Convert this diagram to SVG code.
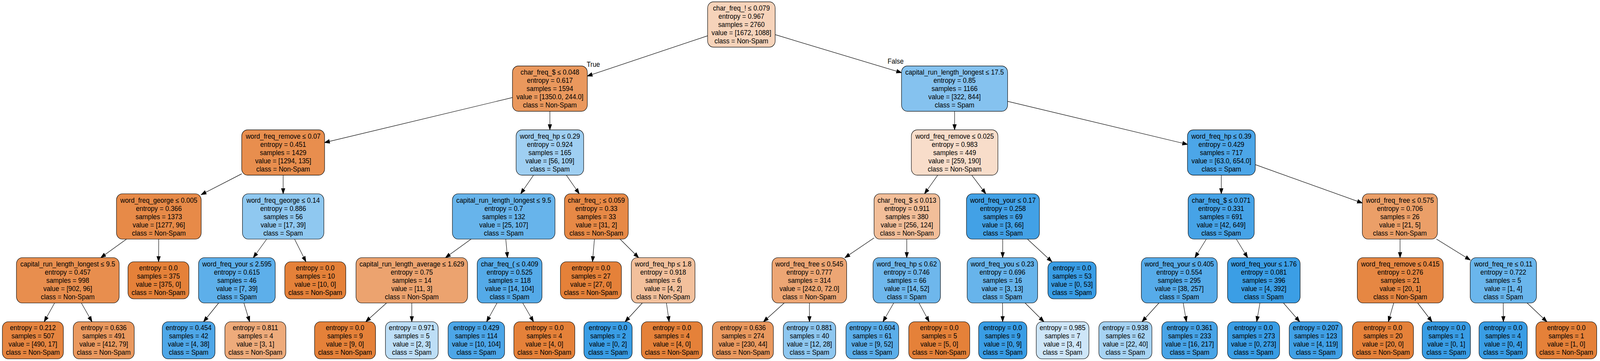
<svg xmlns="http://www.w3.org/2000/svg" width="4382" height="924" viewBox="0 0 4382 924" preserveAspectRatio="none">
<style>
svg{width:min(4382px,100vw);height:min(924px,100vh)}
.n rect{stroke:#000;stroke-width:1.2}
text{font-family:"Liberation Sans",Arial,Helvetica,sans-serif;font-size:18px;text-anchor:middle;fill:#000}
.e line{stroke:#000;stroke-width:1.2;fill:none;marker-end:url(#a)}
.o{fill:#e58139}.b{fill:#399de5}
</style>
<defs>
<marker id="a" markerUnits="userSpaceOnUse" markerWidth="16" markerHeight="12" refX="13.5" refY="4.8" orient="auto" overflow="visible">
<path d="M0,0 L13.5,4.8 L0,9.6 z" fill="#000" stroke="#000" stroke-width="1.2"/>
</marker>
</defs>
<rect width="4382" height="924" fill="#fff"/>
<g id="edges" class="e">
<line x1="1938" y1="91.6" x2="1608.5" y2="194.7"/>
<line x1="2123" y1="88.7" x2="2469" y2="186"/>
<line x1="1403.5" y1="249.7" x2="889" y2="364.9"/>
<line x1="1506" y1="284.8" x2="1506" y2="332.3"/>
<line x1="2614.4" y1="284.8" x2="2614.4" y2="332.3"/>
<line x1="2759.6" y1="259.3" x2="3252.2" y2="369.5"/>
<line x1="662" y1="444.9" x2="551" y2="498.2"/>
<line x1="775.5" y1="448.3" x2="775.5" y2="496"/>
<line x1="1461.2" y1="448.3" x2="1426" y2="496"/>
<line x1="1551.1" y1="448.3" x2="1586.5" y2="496"/>
<line x1="2568.2" y1="448.3" x2="2532" y2="496"/>
<line x1="2661.4" y1="448.3" x2="2699.9" y2="496"/>
<line x1="3344.8" y1="448.3" x2="3344.8" y2="496"/>
<line x1="3437.9" y1="421.4" x2="3731" y2="519.6"/>
<line x1="346.5" y1="612" x2="276" y2="659.5"/>
<line x1="434.7" y1="612" x2="434.3" y2="670"/>
<line x1="730.5" y1="612" x2="693.7" y2="659.5"/>
<line x1="806.7" y1="612" x2="837.9" y2="670"/>
<line x1="1290.2" y1="612" x2="1220" y2="659.5"/>
<line x1="1385.2" y1="612" x2="1389.9" y2="659.5"/>
<line x1="1628" y1="612" x2="1622.7" y2="670"/>
<line x1="1698.2" y1="612" x2="1749" y2="659.5"/>
<line x1="2393.8" y1="609.1" x2="2314" y2="659.5"/>
<line x1="2483.5" y1="612" x2="2483.4" y2="659.5"/>
<line x1="2746.2" y1="612" x2="2746" y2="659.5"/>
<line x1="2813.9" y1="612" x2="2881" y2="670"/>
<line x1="3303.8" y1="612" x2="3272.5" y2="659.5"/>
<line x1="3386" y1="612" x2="3417" y2="659.5"/>
<line x1="3834.4" y1="612" x2="3834.4" y2="659.5"/>
<line x1="3934.2" y1="612" x2="4026.7" y2="665.5"/>
<line x1="149.5" y1="775.5" x2="121" y2="823.5"/>
<line x1="222.8" y1="775.5" x2="252" y2="823.5"/>
<line x1="598.8" y1="775.5" x2="557.5" y2="823.5"/>
<line x1="667.9" y1="775.5" x2="683.7" y2="823.5"/>
<line x1="1058.7" y1="775.5" x2="1001.6" y2="823.5"/>
<line x1="1127.8" y1="775.5" x2="1127.8" y2="823.5"/>
<line x1="1361.2" y1="775.5" x2="1332.7" y2="823.5"/>
<line x1="1431.6" y1="775.5" x2="1461.3" y2="823.5"/>
<line x1="1759.2" y1="775.5" x2="1712" y2="823.5"/>
<line x1="1825.2" y1="775.5" x2="1832.6" y2="823.5"/>
<line x1="2147.8" y1="775.5" x2="2090.9" y2="823.5"/>
<line x1="2216.8" y1="775.5" x2="2216.9" y2="823.5"/>
<line x1="2447.7" y1="775.5" x2="2418.2" y2="823.5"/>
<line x1="2516.9" y1="775.5" x2="2544.8" y2="823.5"/>
<line x1="2745.7" y1="775.5" x2="2746" y2="823.5"/>
<line x1="2807.5" y1="775.5" x2="2859" y2="823.5"/>
<line x1="3174" y1="775.5" x2="3127.7" y2="823.5"/>
<line x1="3240.5" y1="775.5" x2="3249.3" y2="823.5"/>
<line x1="3450.7" y1="775.5" x2="3441.8" y2="823.5"/>
<line x1="3515.1" y1="775.5" x2="3559.5" y2="823.5"/>
<line x1="3817.1" y1="775.5" x2="3802.3" y2="823.5"/>
<line x1="3882.6" y1="775.5" x2="3922" y2="823.5"/>
<line x1="4117" y1="775.5" x2="4117.4" y2="823.5"/>
<line x1="4182.4" y1="775.5" x2="4236.7" y2="823.5"/>
<text x="1625" y="171.3">True</text>
<text x="2452.8" y="163.3">False</text>
</g>

<g id="n0" class="n"><rect x="1938" y="4.7" width="185" height="116" rx="16" fill="#f6d3ba"/><text x="2030.5" y="27.4"><tspan x="2030.5">char_freq_! &#8804; 0.079</tspan><tspan x="2030.5" dy="21">entropy = 0.967</tspan><tspan x="2030.5" dy="21">samples = 2760</tspan><tspan x="2030.5" dy="21">value = [1672, 1088]</tspan><tspan x="2030.5" dy="21">class = Non-Spam</tspan></text></g>

<g id="n1" class="n"><rect x="1403.5" y="168.8" width="205" height="116" rx="16" fill="#ea985d"/><text x="1506" y="191.5"><tspan x="1506">char_freq_$ &#8804; 0.048</tspan><tspan x="1506" dy="21">entropy = 0.617</tspan><tspan x="1506" dy="21">samples = 1594</tspan><tspan x="1506" dy="21">value = [1350.0, 244.0]</tspan><tspan x="1506" dy="21">class = Non-Spam</tspan></text></g>

<g id="n27" class="n"><rect x="2469" y="168.8" width="290.6" height="116" rx="16" fill="#85c2ef"/><text x="2614.3" y="191.5"><tspan x="2614.3">capital_run_length_longest &#8804; 17.5</tspan><tspan x="2614.3" dy="21">entropy = 0.85</tspan><tspan x="2614.3" dy="21">samples = 1166</tspan><tspan x="2614.3" dy="21">value = [322, 844]</tspan><tspan x="2614.3" dy="21">class = Spam</tspan></text></g>

<g id="n2" class="n"><rect x="662" y="332.3" width="227" height="116" rx="16" fill="#e88e4e"/><text x="775.5" y="355"><tspan x="775.5">word_freq_remove &#8804; 0.07</tspan><tspan x="775.5" dy="21">entropy = 0.451</tspan><tspan x="775.5" dy="21">samples = 1429</tspan><tspan x="775.5" dy="21">value = [1294, 135]</tspan><tspan x="775.5" dy="21">class = Non-Spam</tspan></text></g>

<g id="n14" class="n"><rect x="1413.5" y="332.3" width="185" height="116" rx="16" fill="#9fcff2"/><text x="1506" y="355"><tspan x="1506">word_freq_hp &#8804; 0.29</tspan><tspan x="1506" dy="21">entropy = 0.924</tspan><tspan x="1506" dy="21">samples = 165</tspan><tspan x="1506" dy="21">value = [56, 109]</tspan><tspan x="1506" dy="21">class = Spam</tspan></text></g>

<g id="n28" class="n"><rect x="2496" y="332.3" width="237" height="116" rx="16" fill="#f8ddca"/><text x="2614.5" y="355"><tspan x="2614.5">word_freq_remove &#8804; 0.025</tspan><tspan x="2614.5" dy="21">entropy = 0.983</tspan><tspan x="2614.5" dy="21">samples = 449</tspan><tspan x="2614.5" dy="21">value = [259, 190]</tspan><tspan x="2614.5" dy="21">class = Non-Spam</tspan></text></g>

<g id="n41" class="n"><rect x="3252.2" y="332.3" width="185.7" height="116" rx="16" fill="#4ca6e8"/><text x="3345" y="355"><tspan x="3345">word_freq_hp &#8804; 0.39</tspan><tspan x="3345" dy="21">entropy = 0.429</tspan><tspan x="3345" dy="21">samples = 717</tspan><tspan x="3345" dy="21">value = [63.0, 654.0]</tspan><tspan x="3345" dy="21">class = Spam</tspan></text></g>

<g id="n3" class="n"><rect x="319" y="496" width="232" height="116" rx="16" fill="#e78a48"/><text x="435" y="518.7"><tspan x="435">word_freq_george &#8804; 0.005</tspan><tspan x="435" dy="21">entropy = 0.366</tspan><tspan x="435" dy="21">samples = 1373</tspan><tspan x="435" dy="21">value = [1277, 96]</tspan><tspan x="435" dy="21">class = Non-Spam</tspan></text></g>

<g id="n9" class="n"><rect x="664" y="496" width="223" height="116" rx="16" fill="#8fc8f0"/><text x="775.5" y="518.7"><tspan x="775.5">word_freq_george &#8804; 0.14</tspan><tspan x="775.5" dy="21">entropy = 0.886</tspan><tspan x="775.5" dy="21">samples = 56</tspan><tspan x="775.5" dy="21">value = [17, 39]</tspan><tspan x="775.5" dy="21">class = Spam</tspan></text></g>

<g id="n15" class="n"><rect x="1239" y="496" width="281" height="116" rx="16" fill="#67b4eb"/><text x="1379.5" y="518.7"><tspan x="1379.5">capital_run_length_longest &#8804; 9.5</tspan><tspan x="1379.5" dy="21">entropy = 0.7</tspan><tspan x="1379.5" dy="21">samples = 132</tspan><tspan x="1379.5" dy="21">value = [25, 107]</tspan><tspan x="1379.5" dy="21">class = Spam</tspan></text></g>

<g id="n22" class="n"><rect x="1546" y="496" width="174.6" height="116" rx="16" fill="#e78946"/><text x="1633.3" y="518.7"><tspan x="1633.3">char_freq_; &#8804; 0.059</tspan><tspan x="1633.3" dy="21">entropy = 0.33</tspan><tspan x="1633.3" dy="21">samples = 33</tspan><tspan x="1633.3" dy="21">value = [31, 2]</tspan><tspan x="1633.3" dy="21">class = Non-Spam</tspan></text></g>

<g id="n29" class="n"><rect x="2393.8" y="496" width="180" height="116" rx="16" fill="#f2be99"/><text x="2483.8" y="518.7"><tspan x="2483.8">char_freq_$ &#8804; 0.013</tspan><tspan x="2483.8" dy="21">entropy = 0.911</tspan><tspan x="2483.8" dy="21">samples = 380</tspan><tspan x="2483.8" dy="21">value = [256, 124]</tspan><tspan x="2483.8" dy="21">class = Non-Spam</tspan></text></g>

<g id="n36" class="n"><rect x="2646.9" y="496" width="199.8" height="116" rx="16" fill="#42a1e6"/><text x="2746.8" y="518.7"><tspan x="2746.8">word_freq_your &#8804; 0.17</tspan><tspan x="2746.8" dy="21">entropy = 0.258</tspan><tspan x="2746.8" dy="21">samples = 69</tspan><tspan x="2746.8" dy="21">value = [3, 66]</tspan><tspan x="2746.8" dy="21">class = Spam</tspan></text></g>

<g id="n42" class="n"><rect x="3254" y="496" width="181" height="116" rx="16" fill="#46a3e7"/><text x="3344.5" y="518.7"><tspan x="3344.5">char_freq_$ &#8804; 0.071</tspan><tspan x="3344.5" dy="21">entropy = 0.331</tspan><tspan x="3344.5" dy="21">samples = 691</tspan><tspan x="3344.5" dy="21">value = [42, 649]</tspan><tspan x="3344.5" dy="21">class = Spam</tspan></text></g>

<g id="n49" class="n"><rect x="3731" y="496" width="205.7" height="116" rx="16" fill="#eb9f68"/><text x="3833.9" y="518.7"><tspan x="3833.9">word_freq_free &#8804; 0.575</tspan><tspan x="3833.9" dy="21">entropy = 0.706</tspan><tspan x="3833.9" dy="21">samples = 26</tspan><tspan x="3833.9" dy="21">value = [21, 5]</tspan><tspan x="3833.9" dy="21">class = Non-Spam</tspan></text></g>

<g id="n4" class="n"><rect x="45" y="659.5" width="281.3" height="116" rx="16" fill="#e88e4e"/><text x="185.6" y="682.2"><tspan x="185.6">capital_run_length_longest &#8804; 9.5</tspan><tspan x="185.6" dy="21">entropy = 0.457</tspan><tspan x="185.6" dy="21">samples = 998</tspan><tspan x="185.6" dy="21">value = [902, 96]</tspan><tspan x="185.6" dy="21">class = Non-Spam</tspan></text></g>

<g id="n8" class="n"><rect class="o" x="350.5" y="670" width="167" height="95" rx="16"/><text x="434" y="691.6"><tspan x="434">entropy = 0.0</tspan><tspan x="434" dy="21">samples = 375</tspan><tspan x="434" dy="21">value = [375, 0]</tspan><tspan x="434" dy="21">class = Non-Spam</tspan></text></g>

<g id="n10" class="n"><rect x="543.8" y="659.5" width="210" height="116" rx="16" fill="#5dafea"/><text x="648.8" y="682.2"><tspan x="648.8">word_freq_your &#8804; 2.595</tspan><tspan x="648.8" dy="21">entropy = 0.615</tspan><tspan x="648.8" dy="21">samples = 46</tspan><tspan x="648.8" dy="21">value = [7, 39]</tspan><tspan x="648.8" dy="21">class = Spam</tspan></text></g>

<g id="n13" class="n"><rect class="o" x="780" y="670" width="167" height="95" rx="16"/><text x="863.5" y="691.6"><tspan x="863.5">entropy = 0.0</tspan><tspan x="863.5" dy="21">samples = 10</tspan><tspan x="863.5" dy="21">value = [10, 0]</tspan><tspan x="863.5" dy="21">class = Non-Spam</tspan></text></g>

<g id="n16" class="n"><rect x="975" y="659.5" width="305.6" height="116" rx="16" fill="#eca36f"/><text x="1127.8" y="682.2"><tspan x="1127.8">capital_run_length_average &#8804; 1.629</tspan><tspan x="1127.8" dy="21">entropy = 0.75</tspan><tspan x="1127.8" dy="21">samples = 14</tspan><tspan x="1127.8" dy="21">value = [11, 3]</tspan><tspan x="1127.8" dy="21">class = Non-Spam</tspan></text></g>

<g id="n19" class="n"><rect x="1306.9" y="659.5" width="177.5" height="116" rx="16" fill="#54aae8"/><text x="1395.6" y="682.2"><tspan x="1395.6">char_freq_( &#8804; 0.409</tspan><tspan x="1395.6" dy="21">entropy = 0.525</tspan><tspan x="1395.6" dy="21">samples = 118</tspan><tspan x="1395.6" dy="21">value = [14, 104]</tspan><tspan x="1395.6" dy="21">class = Spam</tspan></text></g>

<g id="n23" class="n"><rect class="o" x="1534.9" y="670" width="167" height="95" rx="16"/><text x="1618.4" y="691.6"><tspan x="1618.4">entropy = 0.0</tspan><tspan x="1618.4" dy="21">samples = 27</tspan><tspan x="1618.4" dy="21">value = [27, 0]</tspan><tspan x="1618.4" dy="21">class = Non-Spam</tspan></text></g>

<g id="n24" class="n"><rect x="1729" y="659.5" width="174.4" height="116" rx="16" fill="#f2c09c"/><text x="1816.2" y="682.2"><tspan x="1816.2">word_freq_hp &#8804; 1.8</tspan><tspan x="1816.2" dy="21">entropy = 0.918</tspan><tspan x="1816.2" dy="21">samples = 6</tspan><tspan x="1816.2" dy="21">value = [4, 2]</tspan><tspan x="1816.2" dy="21">class = Non-Spam</tspan></text></g>

<g id="n30" class="n"><rect x="2114.4" y="659.5" width="204.4" height="116" rx="16" fill="#eda674"/><text x="2216.6" y="682.2"><tspan x="2216.6">word_freq_free &#8804; 0.545</tspan><tspan x="2216.6" dy="21">entropy = 0.777</tspan><tspan x="2216.6" dy="21">samples = 314</tspan><tspan x="2216.6" dy="21">value = [242.0, 72.0]</tspan><tspan x="2216.6" dy="21">class = Non-Spam</tspan></text></g>

<g id="n33" class="n"><rect x="2391" y="659.5" width="184.6" height="116" rx="16" fill="#6eb7ec"/><text x="2483.3" y="682.2"><tspan x="2483.3">word_freq_hp &#8804; 0.62</tspan><tspan x="2483.3" dy="21">entropy = 0.746</tspan><tspan x="2483.3" dy="21">samples = 66</tspan><tspan x="2483.3" dy="21">value = [14, 52]</tspan><tspan x="2483.3" dy="21">class = Spam</tspan></text></g>

<g id="n37" class="n"><rect x="2648.8" y="659.5" width="193" height="116" rx="16" fill="#67b4eb"/><text x="2745.3" y="682.2"><tspan x="2745.3">word_freq_you &#8804; 0.23</tspan><tspan x="2745.3" dy="21">entropy = 0.696</tspan><tspan x="2745.3" dy="21">samples = 16</tspan><tspan x="2745.3" dy="21">value = [3, 13]</tspan><tspan x="2745.3" dy="21">class = Spam</tspan></text></g>

<g id="n40" class="n"><rect class="b" x="2870" y="670" width="132" height="95" rx="16"/><text x="2936" y="691.6"><tspan x="2936">entropy = 0.0</tspan><tspan x="2936" dy="21">samples = 53</tspan><tspan x="2936" dy="21">value = [0, 53]</tspan><tspan x="2936" dy="21">class = Spam</tspan></text></g>

<g id="n43" class="n"><rect x="3125.8" y="659.5" width="208" height="116" rx="16" fill="#56abe9"/><text x="3229.8" y="682.2"><tspan x="3229.8">word_freq_your &#8804; 0.405</tspan><tspan x="3229.8" dy="21">entropy = 0.554</tspan><tspan x="3229.8" dy="21">samples = 295</tspan><tspan x="3229.8" dy="21">value = [38, 257]</tspan><tspan x="3229.8" dy="21">class = Spam</tspan></text></g>

<g id="n46" class="n"><rect x="3362" y="659.5" width="198.8" height="116" rx="16" fill="#3b9ee5"/><text x="3461.4" y="682.2"><tspan x="3461.4">word_freq_your &#8804; 1.76</tspan><tspan x="3461.4" dy="21">entropy = 0.081</tspan><tspan x="3461.4" dy="21">samples = 396</tspan><tspan x="3461.4" dy="21">value = [4, 392]</tspan><tspan x="3461.4" dy="21">class = Spam</tspan></text></g>

<g id="n50" class="n"><rect x="3717.3" y="659.5" width="235.3" height="116" rx="16" fill="#e68743"/><text x="3835" y="682.2"><tspan x="3835">word_freq_remove &#8804; 0.415</tspan><tspan x="3835" dy="21">entropy = 0.276</tspan><tspan x="3835" dy="21">samples = 21</tspan><tspan x="3835" dy="21">value = [20, 1]</tspan><tspan x="3835" dy="21">class = Non-Spam</tspan></text></g>

<g id="n53" class="n"><rect x="4026.5" y="659.5" width="181.5" height="116" rx="16" fill="#6ab6ec"/><text x="4117.2" y="682.2"><tspan x="4117.2">word_freq_re &#8804; 0.11</tspan><tspan x="4117.2" dy="21">entropy = 0.722</tspan><tspan x="4117.2" dy="21">samples = 5</tspan><tspan x="4117.2" dy="21">value = [1, 4]</tspan><tspan x="4117.2" dy="21">class = Spam</tspan></text></g>

<g id="n5" class="n"><rect x="6.5" y="823.5" width="167" height="95" rx="16" fill="#e68540"/><text x="90" y="845.1"><tspan x="90">entropy = 0.212</tspan><tspan x="90" dy="21">samples = 507</tspan><tspan x="90" dy="21">value = [490, 17]</tspan><tspan x="90" dy="21">class = Non-Spam</tspan></text></g>

<g id="n6" class="n"><rect x="200.6" y="823.5" width="167" height="95" rx="16" fill="#ea995f"/><text x="284.1" y="845.1"><tspan x="284.1">entropy = 0.636</tspan><tspan x="284.1" dy="21">samples = 491</tspan><tspan x="284.1" dy="21">value = [412, 79]</tspan><tspan x="284.1" dy="21">class = Non-Spam</tspan></text></g>

<g id="n11" class="n"><rect x="444.4" y="823.5" width="144.4" height="95" rx="16" fill="#4ea7e8"/><text x="516.6" y="845.1"><tspan x="516.6">entropy = 0.454</tspan><tspan x="516.6" dy="21">samples = 42</tspan><tspan x="516.6" dy="21">value = [4, 38]</tspan><tspan x="516.6" dy="21">class = Spam</tspan></text></g>

<g id="n12" class="n"><rect x="615.9" y="823.5" width="167" height="95" rx="16" fill="#eeab7b"/><text x="699.4" y="845.1"><tspan x="699.4">entropy = 0.811</tspan><tspan x="699.4" dy="21">samples = 4</tspan><tspan x="699.4" dy="21">value = [3, 1]</tspan><tspan x="699.4" dy="21">class = Non-Spam</tspan></text></g>

<g id="n17" class="n"><rect class="o" x="861.5" y="823.5" width="167" height="95" rx="16"/><text x="945" y="845.1"><tspan x="945">entropy = 0.0</tspan><tspan x="945" dy="21">samples = 9</tspan><tspan x="945" dy="21">value = [9, 0]</tspan><tspan x="945" dy="21">class = Non-Spam</tspan></text></g>

<g id="n18" class="n"><rect x="1055.6" y="823.5" width="144.4" height="95" rx="16" fill="#bddef6"/><text x="1127.8" y="845.1"><tspan x="1127.8">entropy = 0.971</tspan><tspan x="1127.8" dy="21">samples = 5</tspan><tspan x="1127.8" dy="21">value = [2, 3]</tspan><tspan x="1127.8" dy="21">class = Spam</tspan></text></g>

<g id="n20" class="n"><rect x="1227.2" y="823.5" width="154.7" height="95" rx="16" fill="#4ca6e8"/><text x="1304.5" y="845.1"><tspan x="1304.5">entropy = 0.429</tspan><tspan x="1304.5" dy="21">samples = 114</tspan><tspan x="1304.5" dy="21">value = [10, 104]</tspan><tspan x="1304.5" dy="21">class = Spam</tspan></text></g>

<g id="n21" class="n"><rect class="o" x="1407.3" y="823.5" width="167" height="95" rx="16"/><text x="1490.8" y="845.1"><tspan x="1490.8">entropy = 0.0</tspan><tspan x="1490.8" dy="21">samples = 4</tspan><tspan x="1490.8" dy="21">value = [4, 0]</tspan><tspan x="1490.8" dy="21">class = Non-Spam</tspan></text></g>

<g id="n25" class="n"><rect class="b" x="1599.3" y="823.5" width="132" height="95" rx="16"/><text x="1665.3" y="845.1"><tspan x="1665.3">entropy = 0.0</tspan><tspan x="1665.3" dy="21">samples = 2</tspan><tspan x="1665.3" dy="21">value = [0, 2]</tspan><tspan x="1665.3" dy="21">class = Spam</tspan></text></g>

<g id="n26" class="n"><rect class="o" x="1756.6" y="823.5" width="167" height="95" rx="16"/><text x="1840.1" y="845.1"><tspan x="1840.1">entropy = 0.0</tspan><tspan x="1840.1" dy="21">samples = 4</tspan><tspan x="1840.1" dy="21">value = [4, 0]</tspan><tspan x="1840.1" dy="21">class = Non-Spam</tspan></text></g>

<g id="n31" class="n"><rect x="1951.1" y="823.5" width="167" height="95" rx="16" fill="#ea995f"/><text x="2034.6" y="845.1"><tspan x="2034.6">entropy = 0.636</tspan><tspan x="2034.6" dy="21">samples = 274</tspan><tspan x="2034.6" dy="21">value = [230, 44]</tspan><tspan x="2034.6" dy="21">class = Non-Spam</tspan></text></g>

<g id="n32" class="n"><rect x="2145.3" y="823.5" width="143.5" height="95" rx="16" fill="#8ec7f0"/><text x="2217" y="845.1"><tspan x="2217">entropy = 0.881</tspan><tspan x="2217" dy="21">samples = 40</tspan><tspan x="2217" dy="21">value = [12, 28]</tspan><tspan x="2217" dy="21">class = Spam</tspan></text></g>

<g id="n34" class="n"><rect x="2316.9" y="823.5" width="144.4" height="95" rx="16" fill="#5baeea"/><text x="2389.1" y="845.1"><tspan x="2389.1">entropy = 0.604</tspan><tspan x="2389.1" dy="21">samples = 61</tspan><tspan x="2389.1" dy="21">value = [9, 52]</tspan><tspan x="2389.1" dy="21">class = Spam</tspan></text></g>

<g id="n35" class="n"><rect class="o" x="2488.9" y="823.5" width="167" height="95" rx="16"/><text x="2572.4" y="845.1"><tspan x="2572.4">entropy = 0.0</tspan><tspan x="2572.4" dy="21">samples = 5</tspan><tspan x="2572.4" dy="21">value = [5, 0]</tspan><tspan x="2572.4" dy="21">class = Non-Spam</tspan></text></g>

<g id="n38" class="n"><rect class="b" x="2680.3" y="823.5" width="132" height="95" rx="16"/><text x="2746.3" y="845.1"><tspan x="2746.3">entropy = 0.0</tspan><tspan x="2746.3" dy="21">samples = 9</tspan><tspan x="2746.3" dy="21">value = [0, 9]</tspan><tspan x="2746.3" dy="21">class = Spam</tspan></text></g>

<g id="n39" class="n"><rect x="2838" y="823.5" width="144.3" height="95" rx="16" fill="#cee6f8"/><text x="2910.1" y="845.1"><tspan x="2910.1">entropy = 0.985</tspan><tspan x="2910.1" dy="21">samples = 7</tspan><tspan x="2910.1" dy="21">value = [3, 4]</tspan><tspan x="2910.1" dy="21">class = Spam</tspan></text></g>

<g id="n44" class="n"><rect x="3009.5" y="823.5" width="145.3" height="95" rx="16" fill="#a6d3f3"/><text x="3082.1" y="845.1"><tspan x="3082.1">entropy = 0.938</tspan><tspan x="3082.1" dy="21">samples = 62</tspan><tspan x="3082.1" dy="21">value = [22, 40]</tspan><tspan x="3082.1" dy="21">class = Spam</tspan></text></g>

<g id="n45" class="n"><rect x="3182" y="823.5" width="152" height="95" rx="16" fill="#48a4e7"/><text x="3258" y="845.1"><tspan x="3258">entropy = 0.361</tspan><tspan x="3258" dy="21">samples = 233</tspan><tspan x="3258" dy="21">value = [16, 217]</tspan><tspan x="3258" dy="21">class = Spam</tspan></text></g>

<g id="n47" class="n"><rect class="b" x="3362" y="823.5" width="142.5" height="95" rx="16"/><text x="3433.2" y="845.1"><tspan x="3433.2">entropy = 0.0</tspan><tspan x="3433.2" dy="21">samples = 273</tspan><tspan x="3433.2" dy="21">value = [0, 273]</tspan><tspan x="3433.2" dy="21">class = Spam</tspan></text></g>

<g id="n48" class="n"><rect x="3530.8" y="823.5" width="145.2" height="95" rx="16" fill="#40a0e6"/><text x="3603.4" y="845.1"><tspan x="3603.4">entropy = 0.207</tspan><tspan x="3603.4" dy="21">samples = 123</tspan><tspan x="3603.4" dy="21">value = [4, 119]</tspan><tspan x="3603.4" dy="21">class = Spam</tspan></text></g>

<g id="n51" class="n"><rect class="o" x="3704.1" y="823.5" width="167" height="95" rx="16"/><text x="3787.6" y="845.1"><tspan x="3787.6">entropy = 0.0</tspan><tspan x="3787.6" dy="21">samples = 20</tspan><tspan x="3787.6" dy="21">value = [20, 0]</tspan><tspan x="3787.6" dy="21">class = Non-Spam</tspan></text></g>

<g id="n52" class="n"><rect class="b" x="3895.1" y="823.5" width="132" height="95" rx="16"/><text x="3961.1" y="845.1"><tspan x="3961.1">entropy = 0.0</tspan><tspan x="3961.1" dy="21">samples = 1</tspan><tspan x="3961.1" dy="21">value = [0, 1]</tspan><tspan x="3961.1" dy="21">class = Spam</tspan></text></g>

<g id="n54" class="n"><rect class="b" x="4050.7" y="823.5" width="132" height="95" rx="16"/><text x="4116.7" y="845.1"><tspan x="4116.7">entropy = 0.0</tspan><tspan x="4116.7" dy="21">samples = 4</tspan><tspan x="4116.7" dy="21">value = [0, 4]</tspan><tspan x="4116.7" dy="21">class = Spam</tspan></text></g>

<g id="n55" class="n"><rect class="o" x="4206.5" y="823.5" width="166.5" height="95" rx="16"/><text x="4289.7" y="845.1"><tspan x="4289.7">entropy = 0.0</tspan><tspan x="4289.7" dy="21">samples = 1</tspan><tspan x="4289.7" dy="21">value = [1, 0]</tspan><tspan x="4289.7" dy="21">class = Non-Spam</tspan></text></g>
</svg>
